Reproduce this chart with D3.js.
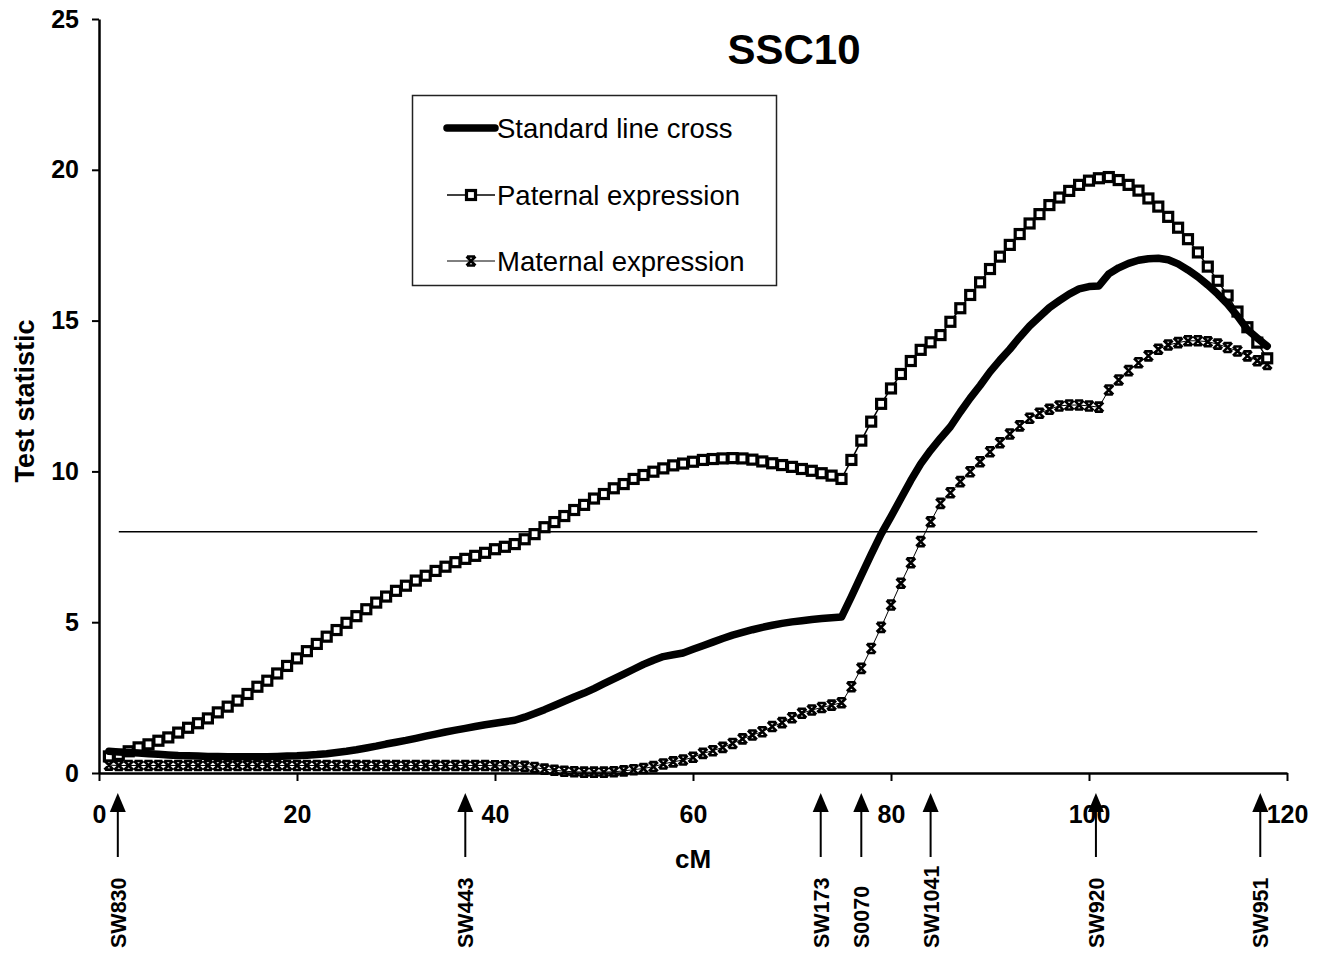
<!DOCTYPE html>
<html>
<head>
<meta charset="utf-8">
<script src="https://cdn.jsdelivr.net/npm/d3@7"></script>
<style>
  body { margin: 0; background: #fff; }
  svg { font-family: Arial, "Liberation Sans", sans-serif; }
</style>
</head>
<body>
<div id="chart"></div>
<script>
// positions along the chromosome (cM)
var positions = [1,2,3,4,5,6,7,8,9,10,11,12,13,14,15,16,17,18,19,20,
  21,22,23,24,25,26,27,28,29,30,31,32,33,34,35,36,37,38,39,40,
  41,42,43,44,45,46,47,48,49,50,51,52,53,54,55,56,57,58,59,60,
  61,62,63,64,65,66,67,68,69,70,71,72,73,74,75,76,77,78,79,80,
  81,82,83,84,85,86,87,88,89,90,91,92,93,94,95,96,97,98,99,100,
  101,102,103,104,105,106,107,108,109,110,111,112,113,114,115,116,117,118];

// test statistic, standard line cross
var standardCross = [0.72,0.7,0.68,0.66,0.64,0.62,0.6,0.58,0.57,0.56,
  0.55,0.55,0.54,0.54,0.54,0.54,0.54,0.55,0.56,0.57,
  0.59,0.61,0.64,0.68,0.72,0.77,0.83,0.89,0.96,1.02,
  1.08,1.15,1.22,1.29,1.36,1.42,1.48,1.54,1.6,1.65,
  1.7,1.75,1.85,1.97,2.1,2.24,2.38,2.52,2.65,2.8,
  2.96,3.12,3.28,3.44,3.6,3.74,3.86,3.92,3.98,4.1,
  4.22,4.34,4.46,4.57,4.66,4.75,4.83,4.9,4.96,5.01,
  5.05,5.09,5.12,5.15,5.17,5.85,6.55,7.25,7.92,8.5,
  9.1,9.7,10.25,10.7,11.1,11.48,11.97,12.43,12.85,13.3,
  13.69,14.05,14.45,14.82,15.13,15.43,15.66,15.88,16.05,16.13,
  16.15,16.55,16.75,16.9,17.0,17.05,17.07,17.02,16.88,16.68,
  16.45,16.18,15.88,15.55,15.15,14.7,14.42,14.15];

// test statistic, paternal expression
var paternal = [0.55,0.6,0.72,0.85,0.95,1.07,1.18,1.34,1.5,1.65,
  1.81,2.01,2.2,2.4,2.62,2.86,3.06,3.3,3.55,3.8,
  4.04,4.28,4.52,4.74,4.98,5.2,5.43,5.65,5.85,6.04,
  6.21,6.38,6.54,6.7,6.84,6.99,7.1,7.2,7.3,7.42,
  7.5,7.59,7.75,7.92,8.15,8.32,8.52,8.72,8.89,9.1,
  9.25,9.44,9.58,9.75,9.88,9.99,10.1,10.2,10.26,10.32,
  10.38,10.41,10.43,10.44,10.43,10.39,10.33,10.27,10.21,10.15,
  10.08,10.02,9.94,9.86,9.75,10.38,11.02,11.65,12.24,12.75,
  13.23,13.66,14.03,14.28,14.52,14.96,15.41,15.85,16.27,16.71,
  17.12,17.51,17.87,18.22,18.53,18.83,19.08,19.3,19.5,19.64,
  19.72,19.76,19.66,19.5,19.31,19.05,18.78,18.44,18.08,17.7,
  17.26,16.79,16.32,15.83,15.3,14.78,14.27,13.75];

// test statistic, maternal expression
var maternal = [0.26,0.25,0.25,0.25,0.25,0.25,0.25,0.25,0.25,0.25,
  0.25,0.25,0.25,0.25,0.25,0.25,0.25,0.25,0.25,0.25,
  0.25,0.25,0.25,0.25,0.25,0.25,0.25,0.25,0.25,0.25,
  0.25,0.25,0.25,0.25,0.25,0.25,0.25,0.25,0.25,0.24,
  0.24,0.23,0.22,0.18,0.13,0.09,0.06,0.04,0.03,0.03,
  0.03,0.04,0.07,0.11,0.15,0.21,0.3,0.37,0.43,0.52,
  0.65,0.74,0.85,0.98,1.13,1.26,1.37,1.54,1.67,1.83,
  1.98,2.09,2.17,2.25,2.33,2.86,3.47,4.13,4.83,5.57,
  6.29,6.97,7.67,8.33,8.94,9.29,9.66,9.99,10.32,10.65,
  10.95,11.24,11.51,11.76,11.93,12.06,12.17,12.2,12.2,12.17,
  12.13,12.7,13.03,13.34,13.6,13.83,14.05,14.19,14.27,14.33,
  14.33,14.3,14.22,14.11,13.99,13.83,13.67,13.55];

// significance threshold and its extent
var thresholdValue = 8;
var thresholdRange = [2, 117];

// genetic markers below the axis
var markerNames = ["SW830", "SW443", "SW173", "S0070", "SW1041", "SW920", "SW951"];
var markerPos = [1.9, 37, 72.9, 77, 84, 100.7, 117.3];

var xTicks = [0, 20, 40, 60, 80, 100, 120];
var yTicks = [0, 5, 10, 15, 20, 25];
var legendLabels = ["Standard line cross", "Paternal expression", "Maternal expression"];

function main() {
    var width = 1319,
        height = 957;

    var svg = d3.select("#chart").append("svg")
        .attr("width", width)
        .attr("height", height);

    var x = d3.scaleLinear().domain([0, 120]).range([99, 1287]);
    var y = d3.scaleLinear().domain([0, 25]).range([773, 19]);

    var rows = positions.map(function(p, i) {
        return { cm: p, std: standardCross[i], pat: paternal[i], mat: maternal[i] };
    });

    // x marker shape (looks like an hourglass in the print)
    var crossPath = "M-4.5,-4.5L4.5,4.5M-4.5,4.5L4.5,-4.5M-4,-4.5L4,-4.5M-4,4.5L4,4.5";

    // axes
    var yAxis = svg.append("g")
        .attr("transform", "translate(" + x(0) + ",0)")
        .call(d3.axisLeft(y).tickValues(yTicks).tickSize(7).tickSizeOuter(0).tickPadding(13));
    var xAxis = svg.append("g")
        .attr("transform", "translate(0," + y(0) + ")")
        .call(d3.axisBottom(x).tickValues(xTicks).tickSize(8).tickSizeOuter(0));

    [xAxis, yAxis].forEach(function(a) {
        a.select(".domain").attr("stroke", "#000").attr("stroke-width", 2.5);
        a.selectAll(".tick line").attr("stroke", "#000").attr("stroke-width", 2);
        a.selectAll(".tick text")
            .attr("fill", "#000")
            .style("font-size", "25px")
            .style("font-weight", "bold");
    });
    xAxis.selectAll(".tick text").attr("y", 50).attr("dy", 0);

    svg.append("text")
        .attr("x", 693).attr("y", 868)
        .attr("text-anchor", "middle")
        .style("font-size", "26px").style("font-weight", "bold")
        .text("cM");

    svg.append("text")
        .attr("transform", "translate(34," + 401 + ") rotate(-90)")
        .attr("text-anchor", "middle")
        .style("font-size", "27px").style("font-weight", "bold")
        .text("Test statistic");

    svg.append("text")
        .attr("x", 794).attr("y", 64)
        .attr("text-anchor", "middle")
        .style("font-size", "42px").style("font-weight", "bold")
        .text("SSC10");

    // threshold line
    svg.append("line")
        .attr("x1", x(thresholdRange[0])).attr("x2", x(thresholdRange[1]))
        .attr("y1", y(thresholdValue)).attr("y2", y(thresholdValue))
        .attr("stroke", "#000").attr("stroke-width", 1.5);

    // maternal expression: thin line with x markers
    var lineMat = d3.line().x(function(d) { return x(d.cm); }).y(function(d) { return y(d.mat); });
    svg.append("path").datum(rows)
        .attr("d", lineMat)
        .attr("fill", "none").attr("stroke", "#000").attr("stroke-width", 1);
    svg.append("g").selectAll("path")
        .data(rows).enter().append("path")
        .attr("transform", function(d) { return "translate(" + x(d.cm) + "," + y(d.mat) + ")"; })
        .attr("d", crossPath)
        .attr("stroke", "#000").attr("stroke-width", 2.6).attr("fill", "none");

    // paternal expression: line with square markers
    var linePat = d3.line().x(function(d) { return x(d.cm); }).y(function(d) { return y(d.pat); });
    svg.append("path").datum(rows)
        .attr("d", linePat)
        .attr("fill", "none").attr("stroke", "#000").attr("stroke-width", 1.5);
    svg.append("g").selectAll("rect")
        .data(rows).enter().append("rect")
        .attr("x", function(d) { return x(d.cm) - 4.5; })
        .attr("y", function(d) { return y(d.pat) - 4.5; })
        .attr("width", 9).attr("height", 9)
        .attr("fill", "#fff").attr("stroke", "#000").attr("stroke-width", 3.2);

    // standard line cross: thick line
    var lineStd = d3.line().x(function(d) { return x(d.cm); }).y(function(d) { return y(d.std); });
    svg.append("path").datum(rows)
        .attr("d", lineStd)
        .attr("fill", "none").attr("stroke", "#000").attr("stroke-width", 7.5)
        .attr("stroke-linecap", "round").attr("stroke-linejoin", "round");

    // legend
    var lg = svg.append("g");
    lg.append("rect")
        .attr("x", 412.5).attr("y", 95.5).attr("width", 364).attr("height", 190)
        .attr("fill", "#fff").attr("stroke", "#222").attr("stroke-width", 1.5);
    var rowY = [128, 195, 261];
    legendLabels.forEach(function(label, i) {
        var ly = rowY[i];
        lg.append("line")
            .attr("x1", 447).attr("x2", 495).attr("y1", ly).attr("y2", ly)
            .attr("stroke", "#000")
            .attr("stroke-width", i === 0 ? 7.5 : (i === 1 ? 1.5 : 1))
            .attr("stroke-linecap", i === 0 ? "round" : "butt");
        if (i === 1) {
            lg.append("rect").attr("x", 466.5).attr("y", ly - 4.5).attr("width", 9).attr("height", 9)
                .attr("fill", "#fff").attr("stroke", "#000").attr("stroke-width", 3.2);
        }
        if (i === 2) {
            lg.append("path").attr("transform", "translate(471," + ly + ")")
                .attr("d", crossPath)
                .attr("stroke", "#000").attr("stroke-width", 2.6).attr("fill", "none");
        }
        lg.append("text")
            .attr("x", 497).attr("y", ly + 10)
            .style("font-size", "27.5px")
            .text(label);
    });

    // marker arrows and names
    var mk = svg.append("g").selectAll("g")
        .data(markerNames).enter().append("g")
        .attr("transform", function(d, i) { return "translate(" + x(markerPos[i]) + ",0)"; });
    mk.append("line")
        .attr("x1", 0).attr("x2", 0).attr("y1", 808).attr("y2", 857)
        .attr("stroke", "#000").attr("stroke-width", 2);
    mk.append("path")
        .attr("d", "M0,793L8,812L-8,812Z")
        .attr("fill", "#000");
    mk.append("text")
        .attr("transform", "translate(8,948) rotate(-90)")
        .style("font-size", "21.5px").style("font-weight", "bold")
        .text(function(d) { return d; });
}

main();
</script>
</body>
</html>
